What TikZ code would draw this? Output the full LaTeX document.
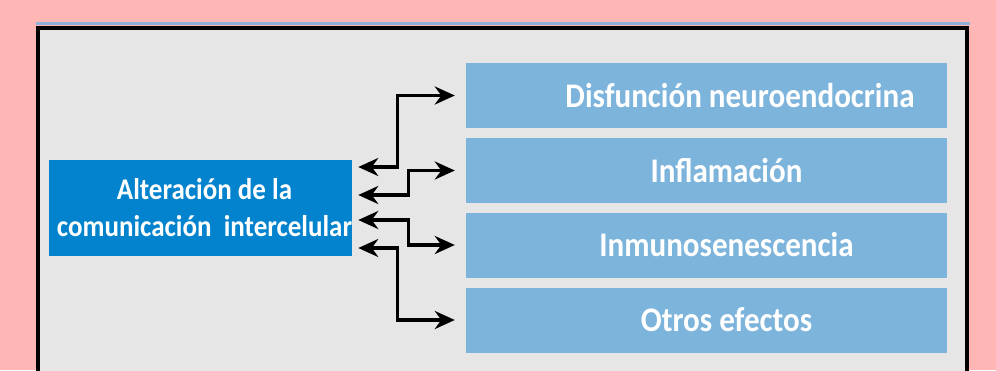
\documentclass[tikz,border=0pt]{standalone}
\usepackage{fontspec}
\setmainfont{Carlito}[FakeStretch=0.9]
\usetikzlibrary{arrows.meta}
\definecolor{fondo}{HTML}{FFB7B5}
\definecolor{panel}{HTML}{E6E6E6}
\definecolor{azul}{HTML}{0382CD}
\definecolor{celeste}{HTML}{7DB4DC}
\definecolor{borde}{HTML}{8FB0D8}
\begin{document}
\begin{tikzpicture}[x=1pt,y=-1pt,
	causa/.style={fill=azul,text=white,font=\bfseries\fontsize{30}{37}\selectfont,align=center,minimum width=303pt,minimum height=96pt,inner sep=0pt},
	efecto/.style={fill=celeste,text=white,font=\bfseries\fontsize{34.5}{36}\selectfont,minimum width=481pt,minimum height=65pt,inner sep=0pt,execute at begin node=\hspace*{40pt}},
	flecha/.style={line width=3.5pt,{Stealth[length=20pt,width=18pt]}-{Stealth[length=20pt,width=18pt]}}]
		\useasboundingbox (0,0) rectangle (996,370);
		\fill[fondo] (0,0) rectangle (996,370);
		\draw[borde,line width=3pt] (36,23.5) -- (970,23.5);
		\draw[line width=4pt,fill=panel] (38,28) rectangle (967,385);
		\node[causa] (alt) at (200.5,208) {\hspace*{8pt}Alteración de la\\\hspace*{8pt}comunicación~~intercelular};
		\node[efecto,execute at begin node=\hspace*{27pt}] (dis) at (706.5,95.5) {Disfunción neuroendocrina};
		\node[efecto] (inf) at (706.5,170.5) {Inflamación};
		\node[efecto] (inm) at (706.5,245) {Inmunosenescencia};
		\node[efecto] (otr) at (706.5,320) {Otros efectos};
		\draw[flecha] ([xshift=6pt,yshift=41pt]alt.east) -- ++(39,0) |- ([xshift=-11pt]dis.west);
		\draw[flecha] ([xshift=6pt,yshift=13pt]alt.east) -- ++(50,0) |- ([xshift=-11pt]inf.west);
		\draw[flecha] ([xshift=6pt,yshift=-12pt]alt.east) -- ++(50,0) |- ([xshift=-11pt]inm.west);
		\draw[flecha] ([xshift=6pt,yshift=-40pt]alt.east) -- ++(39,0) |- ([xshift=-11pt]otr.west);
\end{tikzpicture}
\end{document}
